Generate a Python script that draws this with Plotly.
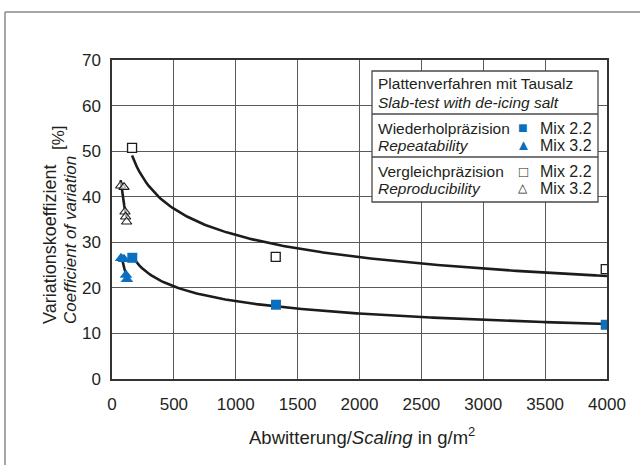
import numpy as np
import plotly.graph_objects as go

# Repeatability (Wiederholpräzision), Mix 2.2 / Mix 3.2
rep_mix22_x = [164, 1325, 3990]
rep_mix22_y = [26.6, 16.3, 11.9]
rep_mix32_x = [73, 97, 113, 121]
rep_mix32_y = [26.5, 26.3, 22.8, 21.9]

# Reproducibility (Vergleichpräzision), Mix 2.2 / Mix 3.2
rpr_mix22_x = [162, 1323, 3990]
rpr_mix22_y = [50.7, 26.8, 24.1]
rpr_mix32_x = [70, 97, 105, 110, 118]
rpr_mix32_y = [42.4, 42.1, 36.7, 35.6, 34.5]

x_ticks = [0, 500, 1000, 1500, 2000, 2500, 3000, 3500, 4000]
y_ticks = [0, 10, 20, 30, 40, 50, 60, 70]

BLUE = "#0b6fbe"
INK = "#231f20"
FONT = "Liberation Sans, Arial, Helvetica, sans-serif"

W, H = 642, 465
L, R, T, B = 112, 607, 60, 379  # plot area in pixels


def px(x, y):
    """Pixel position -> paper coordinates."""
    return (x - L) / (R - L), (B - y) / (B - T)


def power_fit(xs, ys, x_end=None, n=200):
    """Least-squares power law y = a * x^b fitted in log-log space."""
    lx, ly = np.log(xs), np.log(ys)
    b, la = np.polyfit(lx, ly, 1)
    x0 = min(xs)
    x1 = max(xs) if x_end is None else x_end
    xx = np.linspace(x0, x1, n)
    return xx, np.exp(la) * xx ** b


fig = go.Figure()

curve_style = dict(mode="lines", line=dict(color="#1c1c1c", width=2.6),
                   hoverinfo="skip", showlegend=False)
for xs, ys, end in [(rpr_mix22_x, rpr_mix22_y, 4000),
                    (rep_mix22_x, rep_mix22_y, 4000),
                    (rpr_mix32_x, rpr_mix32_y, None),
                    (rep_mix32_x, rep_mix32_y, None)]:
    cx, cy = power_fit(xs, ys, end)
    fig.add_trace(go.Scatter(x=cx, y=cy, **curve_style))

fig.add_trace(go.Scatter(
    x=rpr_mix22_x, y=rpr_mix22_y, mode="markers", showlegend=False,
    marker=dict(symbol="square", size=9, color="white",
                line=dict(color="#1c1c1c", width=1.3))))
fig.add_trace(go.Scatter(
    x=rpr_mix32_x, y=rpr_mix32_y, mode="markers", showlegend=False,
    marker=dict(symbol="triangle-up", size=9, color="rgba(255,255,255,0.6)",
                line=dict(color="#1c1c1c", width=1.1))))
fig.add_trace(go.Scatter(
    x=rep_mix22_x, y=rep_mix22_y, mode="markers", showlegend=False,
    marker=dict(symbol="square", size=10, color=BLUE,
                line=dict(color=BLUE, width=0))))
fig.add_trace(go.Scatter(
    x=rep_mix32_x, y=rep_mix32_y, mode="markers", showlegend=False,
    marker=dict(symbol="triangle-up", size=11, color=BLUE,
                line=dict(color=BLUE, width=0))))

axis_common = dict(showgrid=True, gridcolor="#5a5a5a", gridwidth=1.2,
                   showline=True, linecolor="#333333", linewidth=1.5,
                   mirror=True, zeroline=False, ticks="",
                   tickfont=dict(family=FONT, size=17, color=INK))
fig.update_xaxes(range=[0, 4000], tickvals=x_ticks,
                 ticktext=[str(v) for v in x_ticks], ticklabelstandoff=9,
                 **axis_common)
fig.update_yaxes(range=[0, 70], tickvals=y_ticks,
                 ticktext=[str(v) for v in y_ticks], ticklabelstandoff=6,
                 **axis_common)

shapes = []
annotations = []

# outer frame (left and top edges)
fx0, fy0 = px(5, 12)
fx1, _ = px(640, 12)
_, fyb = px(5, 466)
shapes.append(dict(type="line", xref="paper", yref="paper", x0=fx0, y0=fy0,
                   x1=fx1, y1=fy0, line=dict(color="#8a8a8a", width=1.5)))
shapes.append(dict(type="line", xref="paper", yref="paper", x0=fx0, y0=fy0,
                   x1=fx0, y1=fyb, line=dict(color="#8a8a8a", width=1.5)))

# legend box
bx0, by0 = px(372, 71)
bx1, by1 = px(598, 202)
shapes.append(dict(type="rect", xref="paper", yref="paper", x0=bx0, y0=by0,
                   x1=bx1, y1=by1, fillcolor="white",
                   line=dict(color="#4a4a4a", width=1.3), layer="above"))
for ly in (114, 157):
    _, yy = px(0, ly)
    shapes.append(dict(type="line", xref="paper", yref="paper", x0=bx0, y0=yy,
                       x1=bx1, y1=yy, line=dict(color="#4a4a4a", width=1.3)))


def text(x, y, s, size=15.5, xanchor="left", angle=0, color=INK):
    xp, yp = px(x, y)
    annotations.append(dict(xref="paper", yref="paper", x=xp, y=yp, text=s,
                            showarrow=False, xanchor=xanchor, yanchor="middle",
                            textangle=angle,
                            font=dict(family=FONT, size=size, color=color)))


text(376, 84, "Plattenverfahren mit Tausalz")
text(376, 102, "<i>Slab-test with de-icing salt</i>")
text(376, 128, "Wiederholpräzision")
text(376, 145, "<i>Repeatability</i>")
text(376, 171, "Vergleichpräzision")
text(376, 188, "<i>Reproducibility</i>")
for ly in (128, 171):
    text(538, ly, "Mix 2.2", size=16)
for ly in (145, 188):
    text(538, ly, "Mix 3.2", size=16)
text(523, 127, "■", size=16, xanchor="center", color=BLUE)
text(523, 144, "▲", size=15, xanchor="center", color=BLUE)
text(523, 171, "□", size=15, xanchor="center")
text(523, 188, "△", size=12, xanchor="center")

# axis titles
text(362, 436, "Abwitterung/<i>Scaling</i> in g/m<sup>2</sup>", size=18.5,
     xanchor="center")
text(50, 245, "Variationskoeffizient", size=18, xanchor="center", angle=-90)
text(58, 138, "[%]", size=17, xanchor="center", angle=-90)
text(70, 240, "<i>Coefficient of variation</i>", size=17, xanchor="center",
     angle=-90)

fig.update_layout(
    width=W, height=H,
    margin=dict(l=L, r=W - R, t=T, b=H - B, pad=0),
    paper_bgcolor="white", plot_bgcolor="white",
    shapes=shapes, annotations=annotations, showlegend=False,
)

fig.write_html("out.html")
